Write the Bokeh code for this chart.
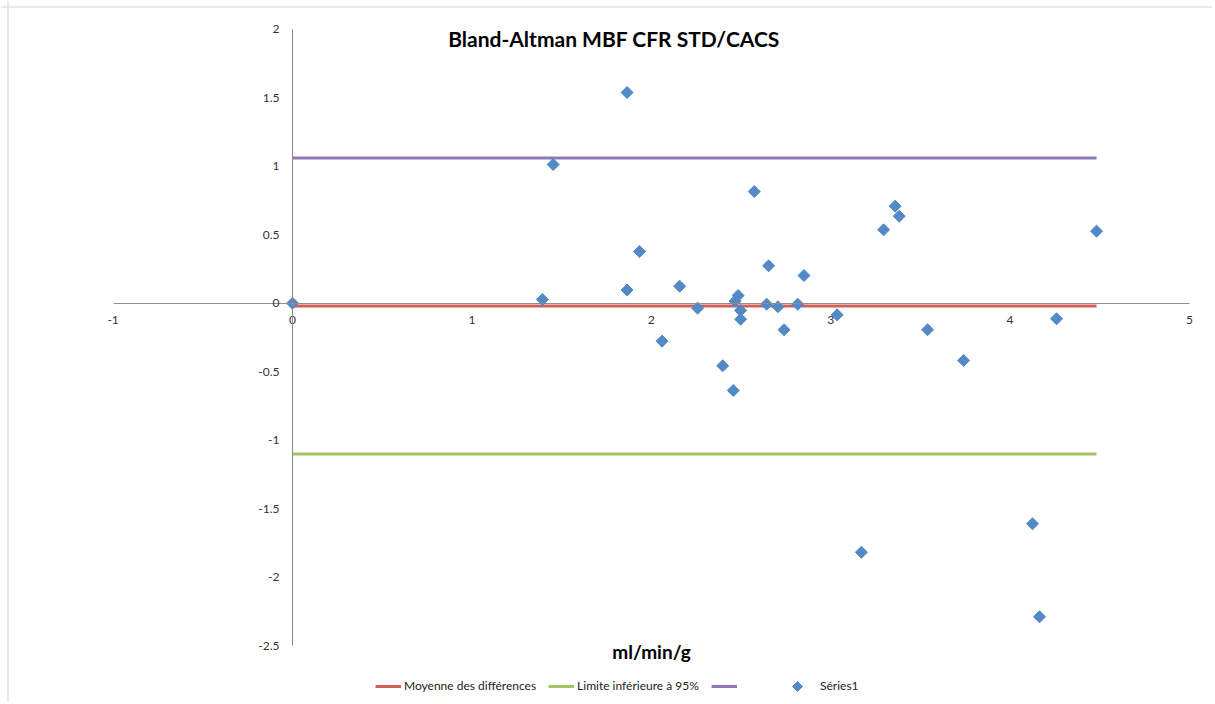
import numpy as np
from bokeh.plotting import figure
from bokeh.models import (LinearAxis, FixedTicker, Label, Legend, LegendItem, Range1d, Span)
from bokeh.embed import file_html
from bokeh.resources import INLINE

# ---- data ----
mean_x = [0.0, 1.393, 1.453, 1.865, 1.865, 1.934, 2.060, 2.158, 2.258, 2.398,
          2.457, 2.467, 2.484, 2.498, 2.498, 2.574, 2.643, 2.654, 2.706, 2.740,
          2.816, 2.851, 3.036, 3.295, 3.359, 3.382, 3.540, 3.741, 4.259, 4.482,
          3.171, 4.125, 4.164]
diff_y = [0.0, 0.027, 1.012, 1.538, 0.096, 0.377, -0.277, 0.124, -0.036, -0.457,
          -0.637, 0.015, 0.056, -0.053, -0.117, 0.815, -0.007, 0.273, -0.026, -0.194,
          -0.007, 0.202, -0.085, 0.536, 0.708, 0.635, -0.194, -0.418, -0.114, 0.526,
          -1.818, -1.610, -2.289]
mean_diff = -0.02
upper_loa = 1.06
lower_loa = -1.10

x_ticks = [-1, 0, 1, 2, 3, 4, 5]
x_tick_labels = ["-1", "0", "1", "2", "3", "4", "5"]
y_ticks = [-2.5, -2, -1.5, -1, -0.5, 0, 0.5, 1, 1.5, 2]
y_tick_labels = ["-2.5", "-2", "-1.5", "-1", "-0.5", "0", "0.5", "1", "1.5", "2"]

title_text = "Bland-Altman MBF CFR STD/CACS"
x_title = "ml/min/g"
legend_labels = ["Moyenne des différences", "Limite inférieure à 95%", "", "Séries1"]

FONT = "Lato"
C_RED = "#d35f5a"
C_GREEN = "#a3c364"
C_PURPLE = "#8f79b5"
C_BLUE = "#5289c6"
C_AXIS = "#8c8c8c"

# ---- layout: the frame covers the whole canvas; axes sit at x=0 / y=0 ----
W, H = 1212, 702
PX0, PY0 = 292.0, 302.7        # pixel position of the data origin
SX, SY = 179.4, 137.0          # pixels per data unit
x_range = Range1d(-PX0 / SX, (W - PX0) / SX)
y_range = Range1d((PY0 - H) / SY, PY0 / SY)

def dx(px):
    return (px - PX0) / SX

def dy(py):
    return (PY0 - py) / SY

p = figure(width=W, height=H, x_range=x_range, y_range=y_range,
           x_axis_type=None, y_axis_type=None,
           output_backend="svg", toolbar_location=None,
           min_border_left=0, min_border_right=0,
           min_border_top=0, min_border_bottom=0)
p.outline_line_color = None
p.background_fill_color = "white"
p.border_fill_color = "white"

# chart border (left and top edges)
p.add_layout(Span(location=dx(7.5), dimension="height", line_color="#d4d4d4", line_width=1))
p.add_layout(Span(location=dy(6.5), dimension="width", line_color="#d4d4d4", line_width=1))

def style_axis(ax):
    ax.axis_line_color = C_AXIS
    ax.axis_line_width = 1
    ax.major_tick_line_color = None
    ax.minor_tick_line_color = None
    ax.major_tick_in = 0
    ax.major_tick_out = 0
    ax.minor_tick_in = 0
    ax.minor_tick_out = 0
    ax.major_label_text_font = FONT
    ax.major_label_text_font_size = "12px"
    ax.major_label_text_color = "#333333"

xaxis = LinearAxis(fixed_location=0, ticker=FixedTicker(ticks=x_ticks),
                   bounds=(min(x_ticks), max(x_ticks)),
                   major_label_overrides={float(t): l for t, l in zip(x_ticks, x_tick_labels)})
style_axis(xaxis)
xaxis.major_label_standoff = 13
p.add_layout(xaxis, "below")

yaxis = LinearAxis(fixed_location=0, ticker=FixedTicker(ticks=y_ticks),
                   bounds=(min(y_ticks), max(y_ticks)),
                   major_label_overrides={float(t): l for t, l in zip(y_ticks, y_tick_labels)})
style_axis(yaxis)
yaxis.major_label_standoff = 13
p.add_layout(yaxis, "left")

x0, x1 = min(mean_x), max(mean_x)
r_mean = p.line([x0, x1], [mean_diff, mean_diff], line_color=C_RED, line_width=3)
r_low = p.line([x0, x1], [lower_loa, lower_loa], line_color=C_GREEN, line_width=3)
r_up = p.line([x0, x1], [upper_loa, upper_loa], line_color=C_PURPLE, line_width=3)
r_pts = p.scatter(mean_x, diff_y, marker="square", angle=np.pi / 4, size=8.5,
                  fill_color=C_BLUE, line_color=C_BLUE)

p.add_layout(Label(x=dx(613.5), y=dy(38), text=title_text,
                   text_align="center", text_baseline="middle", text_font=FONT,
                   text_font_style="bold", text_font_size="21px", text_color="black"))
p.add_layout(Label(x=dx(651), y=dy(651), text=x_title,
                   text_align="center", text_baseline="middle", text_font=FONT,
                   text_font_style="bold", text_font_size="19px", text_color="black"))

def make_legend(items, loc):
    return Legend(items=items, location=loc, orientation="horizontal",
                  label_text_font=FONT, label_text_font_size="12px",
                  label_text_color="#222222",
                  glyph_width=26, glyph_height=12, label_standoff=3,
                  spacing=12, padding=0, margin=0,
                  border_line_color=None, background_fill_alpha=0)

# legend key for the scatter series: Bokeh legends don't rotate markers, so the
# diamond key is drawn as a rotated square next to an invisible proxy entry
proxy = p.scatter([], [], marker="square", fill_alpha=0, line_alpha=0)
p.scatter([dx(797)], [dy(686)], marker="square", angle=np.pi / 4, size=7,
          fill_color=C_BLUE, line_color=C_BLUE)

leg_bottom = H - 693
leg1 = make_legend([LegendItem(label=legend_labels[0], renderers=[r_mean]),
                    LegendItem(label=legend_labels[1], renderers=[r_low]),
                    LegendItem(label=legend_labels[2], renderers=[r_up])], (375, leg_bottom))
leg2 = make_legend([LegendItem(label=legend_labels[3], renderers=[proxy])], (791, leg_bottom))
p.add_layout(leg1, "center")
p.add_layout(leg2, "center")

open("out.html", "w").write(file_html(p, INLINE))
